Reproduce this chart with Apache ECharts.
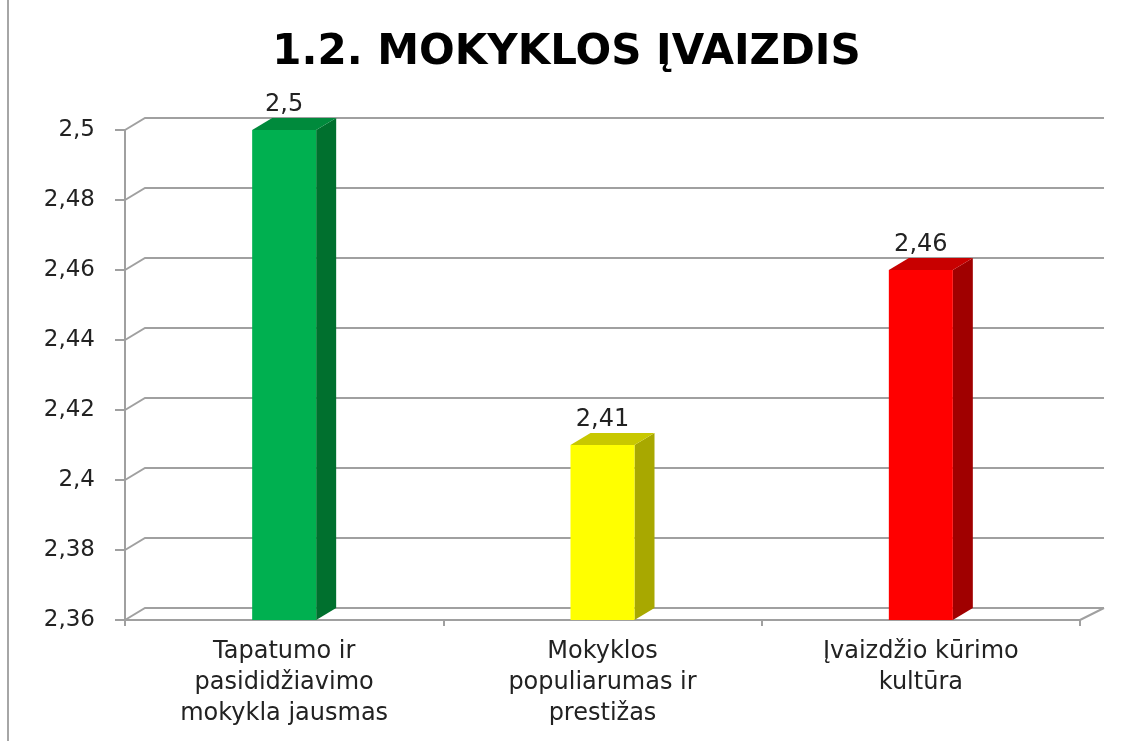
<!DOCTYPE html>
<html>
<head>
<meta charset="utf-8">
<script src="https://cdn.jsdelivr.net/npm/echarts@6/dist/echarts.min.js"></script>
<style>
  html, body { margin: 0; padding: 0; background: #fff; }
  #chart { width: 1133px; height: 741px; }
</style>
</head>
<body>
<div id="chart"></div>
<script>
// duomenys
const categories = [
  'Tapatumo ir\npasididžiavimo\nmokykla jausmas',
  'Mokyklos\npopuliarumas ir\nprestižas',
  'Įvaizdžio kūrimo\nkultūra'
]
const values = [2.5, 2.41, 2.46]
const yTicks = [2.36, 2.38, 2.4, 2.42, 2.44, 2.46, 2.48, 2.5]

// 3D stilius
const DX = 20
const DY = -12
const BAR_W = 64
const GRID_COLOR = '#a0a0a0'
const barColors = [
  { front: '#00b050', top: '#008a3c', side: '#00702e' },
  { front: '#ffff00', top: '#c8c800', side: '#a8a800' },
  { front: '#ff0000', top: '#c80000', side: '#a00000' }
]

const fmt = v => String(+(+v).toFixed(2)).replace('.', ',')

const chart = echarts.init(document.getElementById('chart'))

function renderGrid(params, api) {
  const cs = params.coordSys
  const v = api.value(1)
  const y = api.coord([0, v])[1]
  const x0 = cs.x
  const x1 = cs.x + cs.width
  const style = { stroke: GRID_COLOR, lineWidth: 2, fill: null }
  const children = [{
    type: 'polyline',
    shape: { points: [[x0, y], [x0 + DX, y + DY], [x1 + DX + 4, y + DY]] },
    style
  }]
  if (v === yTicks[0]) {
    children.push({
      type: 'line',
      shape: { x1: x1, y1: y, x2: x1 + DX + 4, y2: y + DY },
      style
    })
  }
  return { type: 'group', children }
}

function renderBar(params, api) {
  const i = api.value(0)
  const top = api.coord([i, api.value(1)])
  const bot = api.coord([i, yTicks[0]])
  const xl = top[0] - BAR_W / 2
  const xr = top[0] + BAR_W / 2
  const yt = top[1]
  const yb = bot[1]
  const c = barColors[i]
  return {
    type: 'group',
    children: [
      {
        type: 'polygon',
        shape: { points: [[xr, yt], [xr + DX, yt + DY], [xr + DX, yb + DY], [xr, yb]] },
        style: { fill: c.side }
      },
      {
        type: 'polygon',
        shape: { points: [[xl, yt], [xl + DX, yt + DY], [xr + DX, yt + DY], [xr, yt]] },
        style: { fill: c.top }
      },
      {
        type: 'rect',
        shape: { x: xl, y: yt, width: BAR_W, height: yb - yt },
        style: { fill: c.front }
      },
      {
        type: 'text',
        x: top[0],
        y: yt + DY - 1,
        style: {
          text: fmt(api.value(1)),
          fill: '#222',
          font: '24px "DejaVu Sans"',
          textAlign: 'center',
          textVerticalAlign: 'bottom'
        }
      }
    ]
  }
}

const option = {
  backgroundColor: '#fff',
  animation: false,
  title: {
    text: '1.2. MOKYKLOS ĮVAIZDIS',
    left: 'center',
    top: 27,
    textStyle: {
      fontFamily: 'DejaVu Sans',
      fontWeight: 'bold',
      fontSize: 42,
      color: '#000'
    }
  },
  graphic: [{
    type: 'line',
    shape: { x1: 8, y1: 0, x2: 8, y2: 741 },
    style: { stroke: '#888', lineWidth: 1.5 }
  }],
  grid: {
    left: 125,
    right: 53,
    top: 130,
    bottom: 121
  },
  xAxis: {
    type: 'category',
    data: categories,
    axisLine: { show: true, lineStyle: { color: GRID_COLOR, width: 2 } },
    axisTick: { show: true, length: 6, lineStyle: { color: GRID_COLOR, width: 2 } },
    axisLabel: {
      interval: 0,
      margin: 16,
      fontFamily: 'DejaVu Sans',
      fontSize: 24,
      lineHeight: 31,
      color: '#222'
    },
    splitLine: { show: false }
  },
  yAxis: {
    type: 'value',
    min: 2.36,
    max: 2.5,
    interval: 0.02,
    axisLine: { show: true, lineStyle: { color: GRID_COLOR, width: 2 } },
    axisTick: { show: true, length: 10, lineStyle: { color: GRID_COLOR, width: 2 } },
    axisLabel: {
      margin: 30,
      fontFamily: 'DejaVu Sans',
      fontSize: 23,
      color: '#222',
      formatter: fmt
    },
    splitLine: { show: false }
  },
  series: [
    {
      type: 'custom',
      name: 'grid',
      renderItem: renderGrid,
      data: yTicks.map(v => [0, v]),
      clip: false,
      silent: true,
      z: 1
    },
    {
      type: 'custom',
      name: 'reikšmės',
      renderItem: renderBar,
      data: values.map((v, i) => [i, v]),
      clip: false,
      z: 2
    }
  ]
}

chart.setOption(option)
</script>
</body>
</html>
